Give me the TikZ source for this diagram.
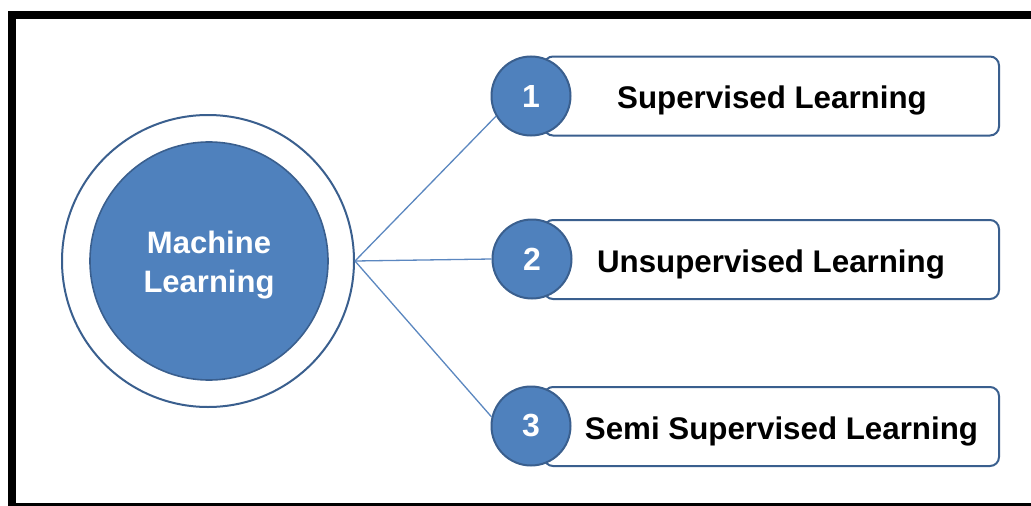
\documentclass[tikz,border=0pt]{standalone}
\usepackage{fontspec}
\setmainfont{Liberation Sans}
\begin{document}
\definecolor{mlfill}{HTML}{4F81BD}
\definecolor{mledge}{HTML}{3A5F8E}
\definecolor{mlline}{HTML}{5B87C0}
\begin{tikzpicture}[x=1pt,y=-1pt,
  hub/.style={circle,draw=mledge,line width=1.6pt,fill=mlfill,minimum size=238pt,inner sep=0pt,
    text=white,align=center},
  hubtext/.style={inner sep=0pt,text=white,align=center,font=\fontsize{31}{39}\selectfont\bfseries},
  ring/.style={circle,draw=mledge,line width=2pt,fill=white,minimum size=292pt,inner sep=0pt},
  badge/.style={circle,draw=mledge,line width=2pt,fill=mlfill,minimum size=79pt,inner sep=0pt,
    text=white,font=\fontsize{32}{34}\selectfont\bfseries},
  tbox/.style={rectangle,rounded corners=9pt,draw=mledge,line width=2pt,fill=white,
    minimum width=455pt,minimum height=79pt,inner sep=0pt},
  tlabel/.style={inner sep=0pt,font=\fontsize{31.3}{36}\selectfont\bfseries},
  link/.style={draw=mlline,line width=1.3pt}]
\useasboundingbox (0,0) rectangle (1031,506);
\fill[white] (0,0) rectangle (1031,506);
% frame
\fill[black] (8,11) rectangle (1031,19);
\fill[black] (8,11) rectangle (16,506);
\fill[black] (8,503) rectangle (1031,506);

% boxes
\node[tbox] (b1) at (771.5,96) {};
\node[tbox] (b2) at (771.5,259.5) {};
\node[tbox] (b3) at (771.5,426.5) {};
\node[tlabel] (t1) at (772,100) {Supervised Learning};
\node[tlabel] (t2) at (771,264) {Unsupervised Learning};
\node[tlabel] (t3) at (781.5,431) {Semi Supervised Learning};

% central hub
\node[ring] (ring) at (208,261) {};
\node[hub] (hub) at (209,261) {};
\node[hubtext] (hubt) at (209,265) {Machine\\Learning};

% badges
\node[badge] (c1) at (531,96) {1};
\node[badge] (c2) at (532,259) {2};
\node[badge] (c3) at (531,426) {3};

% connectors
\draw[link] (ring.east) -- (c1.210);
\draw[link] (ring.east) -- (c2.west);
\draw[link] (ring.east) -- (c3.167);
\end{tikzpicture}
\end{document}
